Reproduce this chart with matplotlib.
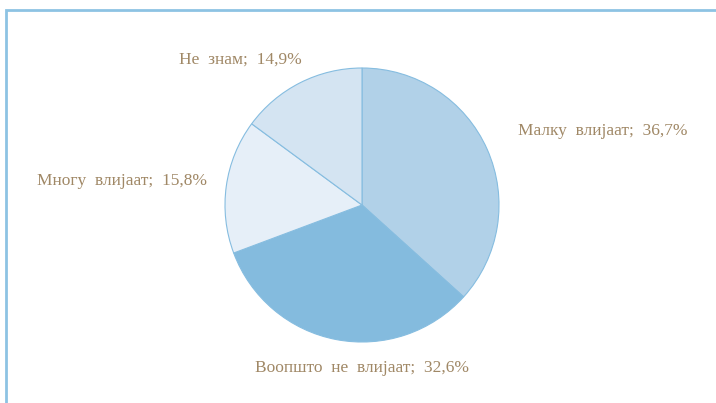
import matplotlib.pyplot as plt
from matplotlib.patches import Rectangle

categories = ['Малку влијаат', 'Воопшто не влијаат', 'Многу влијаат', 'Не знам']
values = [36.7, 32.6, 15.8, 14.9]
colors = ['#b1d1e8', '#84bbde', '#e6eff8', '#d4e4f2']
# label anchors in pixel space (x, y from top)
label_pos = [(603, 131), (362, 368), (122, 181), (240, 60)]

W, H = 716, 403
fig = plt.figure(figsize=(W / 100, H / 100), dpi=100)
ax = fig.add_axes([0, 0, 1, 1])

ax.pie(values, colors=colors, startangle=90, counterclock=False,
       center=(362, H - 205), radius=137,
       wedgeprops=dict(edgecolor='#86bde0', linewidth=0.8))
ax.set_xlim(0, W)
ax.set_ylim(0, H)
ax.set_aspect('equal')
ax.axis('off')

for name, v, (x, y) in zip(categories, values, label_pos):
    # wide word spacing like the original
    txt = '  '.join(name.split(' ')) + ';  ' + f'{v:.1f}'.replace('.', ',') + '%'
    ax.text(x, H - y, txt, ha='center', va='center', color='#a08866',
            fontsize=12.5, family='Liberation Serif')

# partial frame around the chart area
ax.add_patch(Rectangle((5.5, -20), W, H - 10 + 20, fill=False,
                       edgecolor='#8dc3e3', linewidth=2, clip_on=True))

fig.savefig('out.png', dpi=100)
